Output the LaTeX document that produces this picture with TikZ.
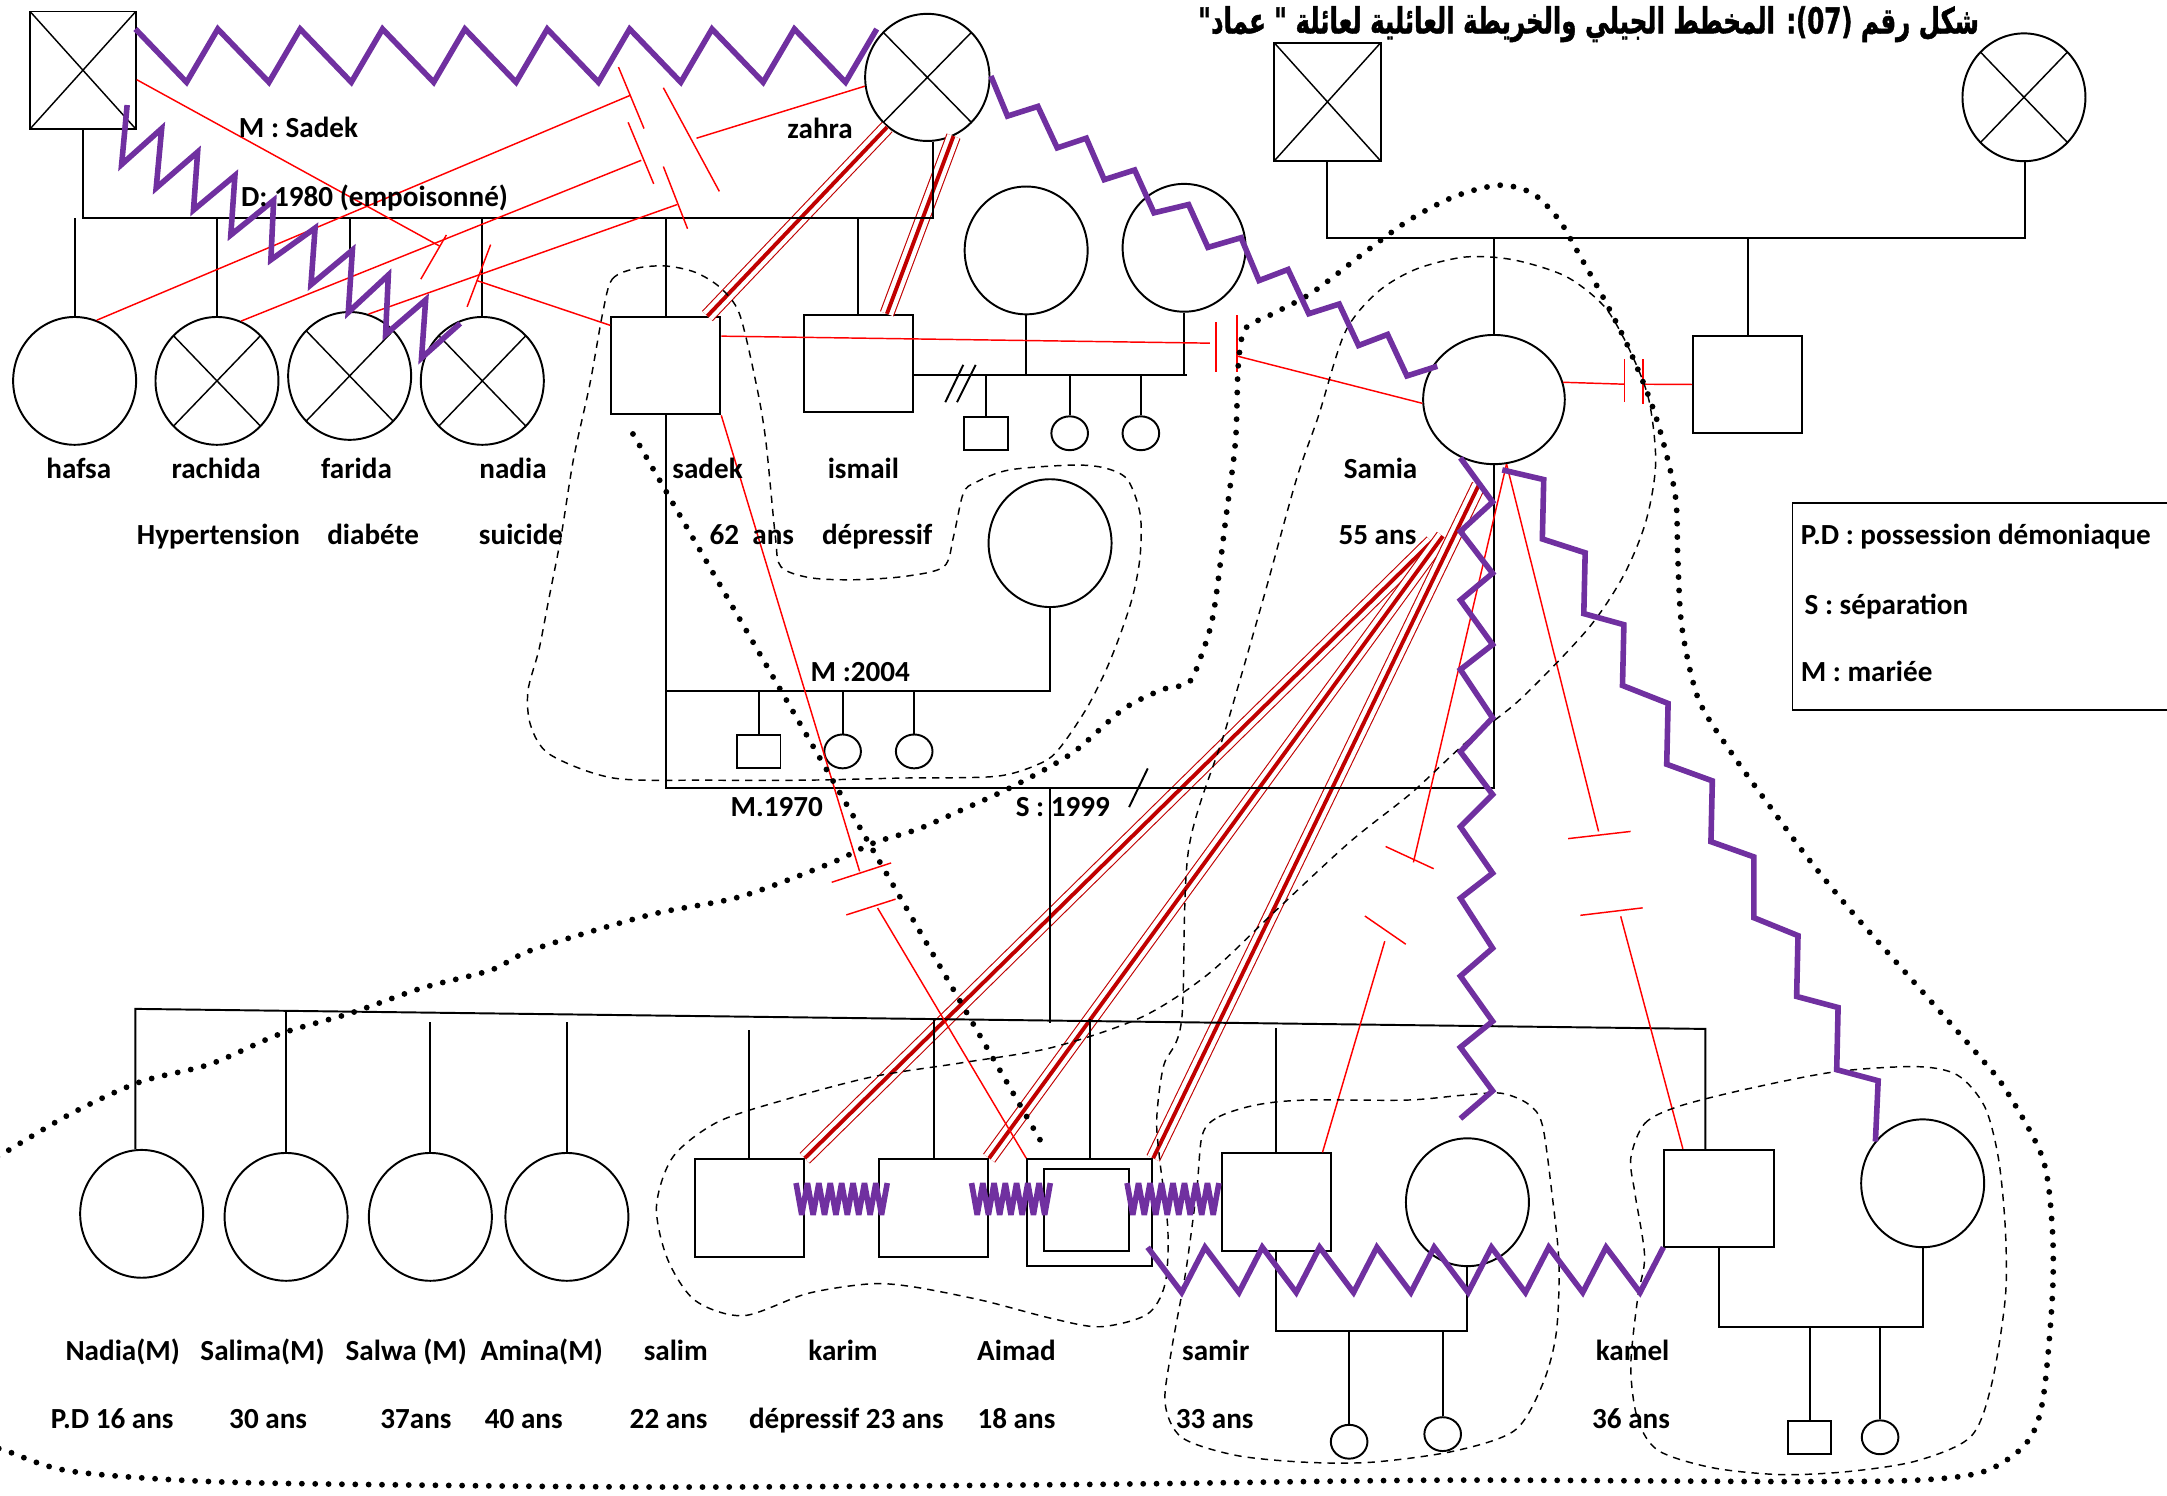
\documentclass[tikz,border=0pt]{standalone}
\usepackage{graphicx}
\usepackage{fontspec}
\setmainfont{Carlito}
\newfontfamily\arabicfont[Script=Arabic, BoldFeatures={FakeBold=1.5}]{DejaVu Sans}
\TeXXeTstate=1
\usetikzlibrary{shapes.geometric}
\definecolor{conflictpurple}{HTML}{7030A0}
\definecolor{cutred}{HTML}{FF0000}
\definecolor{fusedred}{HTML}{C00000}
\tikzset{
	personnode/.style={
			draw=black,
			thick,
			inner sep=0pt
		},
	malenode/.style={
			personnode,
			rectangle,
			minimum width=1.58cm,
			minimum height=1.41cm
		},
	femalenode/.style={
			personnode,
			ellipse,
			minimum width=1.78cm,
			minimum height=1.85cm
		},
	kidmale/.style={
			personnode,
			rectangle,
			minimum width=0.63cm,
			minimum height=0.48cm
		},
	kidfemale/.style={
			personnode,
			ellipse,
			minimum width=0.53cm,
			minimum height=0.49cm
		},
	deadnode/.style={
			path picture={
				\draw[line width=0.6pt] (path picture bounding box.north west) -- (path picture bounding box.south east)
				(path picture bounding box.north east) -- (path picture bounding box.south west);
			}
		},
	labelnode/.style={
			font=\bfseries\fontsize{12}{14}\selectfont,
			inner sep=0pt,
			text height=8.5pt,
			text depth=2.5pt
		},
	familyline/.style={thick},
	conflictline/.style={draw=conflictpurple, line width=2.3pt},
	cutline/.style={draw=cutred, line width=0.6pt},
	fusedline/.style={
			preaction={draw=fusedred, double=white, line width=0.45pt, double distance=5.2pt},
			draw=fusedred,
			line width=1.6pt
		},
	homeline/.style={line width=0.6pt, dash pattern=on 3pt off 2.5pt},
	clanline/.style={line width=2.4pt, dash pattern=on 0pt off 5.5pt, line cap=round}
}

\begin{document}
\begin{tikzpicture}[x=0.02cm, y=-0.02cm]
	\useasboundingbox (0,0) rectangle (1568,1082);

	% fused relations first
	\coordinate (fz1) at (1036,392);
	\coordinate (fz2) at (1044,388);
	\coordinate (fz3) at (1070,351);

	% persons
	\node[malenode, deadnode, minimum width=1.53cm, minimum height=1.7cm] (gpa) at (60,50.8) {};
	\node[femalenode, deadnode, minimum width=1.8cm, minimum height=1.84cm] (zahra) at (671,56) {};
	\node[malenode, deadnode, minimum width=1.54cm, minimum height=1.71cm] (samiafa) at (960.5,73.7) {};
	\node[femalenode, deadnode] (samiamo) at (1464.5,70.4) {};

	\node[femalenode] (hafsa) at (54,275.6) {};
	\node[femalenode, deadnode] (rachida) at (157,275.6) {};
	\node[femalenode, deadnode] (farida) at (253,272) {};
	\node[femalenode, deadnode] (nadia) at (349,275.6) {};
	\node[malenode] (sadek) at (481.7,264.6) {};
	\node[malenode] (ismail) at (621,263) {};
	\node[femalenode] (ismailwa) at (742.5,181.2) {};
	\node[femalenode] (ismailwb) at (856.8,179.3) {};
	\node[kidmale] (ismailka) at (713.5,313.5) {};
	\node[kidfemale] (ismailkb) at (774,313.5) {};
	\node[kidfemale] (ismailkc) at (825.5,313.5) {};
	\node[femalenode] (sadekw) at (759.8,393) {};
	\node[kidmale] (sadekka) at (549,543.7) {};
	\node[kidfemale] (sadekkb) at (609.7,543.7) {};
	\node[kidfemale] (sadekkc) at (661.5,543.7) {};
	\node[femalenode, minimum width=2.05cm, minimum height=1.87cm] (samia) at (1081,289.1) {};
	\node[malenode] (samiabro) at (1264.6,278.2) {};

	\node[femalenode] (nadiam) at (102.5,878.3) {};
	\node[femalenode] (salima) at (207,880.5) {};
	\node[femalenode] (salwa) at (311.4,880.5) {};
	\node[femalenode] (amina) at (410.2,880.5) {};
	\node[malenode] (salim) at (542.1,874) {};
	\node[malenode] (karim) at (675.5,874) {};
	\node[malenode, minimum width=1.81cm, minimum height=1.55cm] (aimad) at (788.5,877.5) {};
	\node[malenode, minimum width=1.23cm, minimum height=1.19cm] (aimadin) at (786,875.3) {};
	\node[malenode] (samir) at (923.4,869.8) {};
	\node[femalenode] (samirw) at (1061.8,869.9) {};
	\node[malenode] (kamel) at (1243.8,867.2) {};
	\node[femalenode] (kamelw) at (1391.2,856.2) {};
	\node[kidfemale] (samirka) at (976.2,1043.2) {};
	\node[kidfemale] (samirkb) at (1043.9,1037.7) {};
	\node[kidmale] (kamelka) at (1309.4,1039.9) {};
	\node[kidfemale] (kamelkb) at (1360.4,1040) {};

	\draw[fusedline] (sadek.50) -- (zahra.-129);
	\draw[fusedline] (ismail.60) -- (zahra.-66);
	\draw[fusedline] (fz1) -- (salim.north east);
	\draw[fusedline] (fz2) -- (karim.north east);
	\draw[fusedline] (fz3) -- (aimad.north east);

	% family lines
	\coordinate (mara) at (675,158);
	\draw[familyline] (gpa.south) |- (mara) -- (mara |- zahra.south);
	\foreach \c in {hafsa, rachida, farida, nadia, sadek, ismail}
		\draw[familyline] (\c.north) -- (\c.north |- mara);

	\coordinate (marb) at (1465,172);
	\draw[familyline] (samiafa.south) |- (marb) -- (marb |- samiamo.south);
	\draw[familyline] (samia.north) -- (samia.north |- marb);
	\draw[familyline] (samiabro.north) -- (samiabro.north |- marb);

	\coordinate (marc) at (859,271.5);
	\draw[familyline] (ismail.east |- marc) -- (marc);
	\draw[familyline] (ismailwa.south) -- (ismailwa.south |- marc);
	\draw[familyline] (ismailwb.south) -- (ismailwb.south |- marc);
	\foreach \c in {ismailka, ismailkb, ismailkc}
		\draw[familyline] (\c.north) -- (\c.north |- marc);
	\draw[familyline] (684,291) -- (697,264) (692.5,291) -- (706,264);

	\coordinate (mar70) at (760,570);
	\draw[familyline] (sadek.south) |- (mar70) -| (samia.south);
	\draw[familyline] (mar70) -- (760,740);
	\draw[familyline] (817,584) -- (830.5,556);
	\coordinate (mar04) at (620,500);
	\draw[familyline] (sadek.south |- mar04) -- (mar04) -| (sadekw.south);
	\foreach \c in {sadekka, sadekkb, sadekkc}
		\draw[familyline] (\c.north) -- (\c.north |- mar04);

	\coordinate (sibl) at (98,730);
	\coordinate (sibr) at (1234,744.5);
	\draw[familyline] (sibl |- nadiam.north) -- (sibl) -- (sibr) -- (sibr |- kamel.north);
	\draw[familyline] (salima.north) -- ++(0,-103);
	\draw[familyline] (salwa.north) -- ++(0,-94);
	\draw[familyline] (amina.north) -- ++(0,-94);
	\draw[familyline] (salim.north) -- ++(0,-93);
	\draw[familyline] (karim.north) -- ++(0,-101);
	\draw[familyline] (aimad.north) -- ++(0,-101);
	\draw[familyline] (samir.north) -- ++(0,-90);

	\coordinate (mard) at (990,963);
	\draw[familyline] (samir.south) |- (mard) -| (samirw.south);
	\foreach \c in {samirka, samirkb}
		\draw[familyline] (\c.north) -- (\c.north |- mard);
	\coordinate (mare) at (1320,960);
	\draw[familyline] (kamel.south) |- (mare) -| (kamelw.south);
	\foreach \c in {kamelka, kamelkb}
		\draw[familyline] (\c.north) -- (\c.north |- mare);

	% cut-off relations
	\draw[cutline] (gpa.-10) -- (318,178);
	\draw[cutline] (323,170) -- (304.5,202) (355,177) -- (338,222);
	\draw[cutline] (345,203) -- (sadek.144);

	\draw[cutline] (hafsa.70) -- (456,69);
	\draw[cutline] (rachida.68) -- (464,116);
	\draw[cutline] (farida.73) -- (490,148);
	\draw[cutline] (447.5,48.5) -- (466,93) (454.5,88.5) -- (473,133)
		(480,63.5) -- (520.5,138.5) (480,120.5) -- (497.5,165.5);
	\draw[cutline] (504,100) -- (zahra.188);

	\draw[cutline] (sadek.28) -- (875.5,248.3);
	\draw[cutline] (880,233) -- (880,269.5) (895,228) -- (895,269.5);
	\draw[cutline] (895,257.6) -- (samia.183);

	\draw[cutline] (samia.14) -- (1175.5,278);
	\draw[cutline] (1175.5,260) -- (1175.5,291) (1188.7,260) -- (1188.7,292);
	\draw[cutline] (1188.7,278) -- (samiabro.west);

	\draw[cutline] (sadek.south east) -- (622,630.5);
	\draw[cutline] (601.8,638.4) -- (644.8,624.4) (612.4,662) -- (648,650.6);
	\draw[cutline] (635,657) -- (aimad.north west);

	\draw[cutline] (samia.-79) -- (1022.7,624);
	\draw[cutline] (1002.6,612.5) -- (1037.4,628.6) (987.6,662.8) -- (1017.2,683.2);
	\draw[cutline] (1002,681) -- (samir.47);

	\draw[cutline] (samia.-79) -- (1156.7,601.6);
	\draw[cutline] (1134.7,606.8) -- (1179.9,601.6) (1143.5,662.3) -- (1188.6,656.9);
	\draw[cutline] (1172.7,663) -- (kamel.126);

	% household boundaries
	\draw[homeline] plot[smooth cycle] coordinates {(436,227) (443,202) (461,194) (482,192.5) (503,197) (521,208) (535,227) (547,277) (554,318) (561,388) (565,410) (586,418) (618,419.5) (655,417) (683,410) (690,388) (697,357) (706,349) (730.5,340) (776.6,336.5) (799.7,338.7) (815.8,347) (825,372) (825,402) (820,430) (811,458) (800,485.5) (786,513) (767,541) (753.5,552) (721,561.7) (652,563) (583,564.5) (513.5,564.5) (444,563) (398,546) (384,525) (382,500) (390,470) (397,434) (406,388) (415,332) (427,277)};
	\draw[homeline] plot[smooth cycle] coordinates {(954,301) (973,241) (996,212) (1024,195) (1060,186) (1095,188) (1133,200) (1161,222) (1179,253) (1193,289) (1198,335) (1191,377) (1175,416) (1149,455) (1100,506) (1061,537) (1021,574) (977,609) (923,659) (874,705) (826,736) (761,758) (696,769) (632,779) (567,796) (519,812) (487,837) (475,873) (483,911) (503,941) (538,952) (584,936) (629,929) (660,931) (711,941) (761,954) (796,960) (830,951) (843,929) (845,889) (839,838) (837,809) (842,771) (855,738) (860,615) (887,527) (915,430) (938,347)};
	\draw[homeline] plot[smooth cycle] coordinates {(870,821) (882,808) (909,799.5) (944,796) (1017.5,796) (1057,792.6) (1086,791) (1106,799) (1116,814) (1123,864) (1128,914) (1126,965) (1116,1002) (1096,1035) (1052,1050) (993,1058) (944,1058) (894,1053) (855,1040) (843,1015) (848,975) (858,920) (866,860)};
	\draw[homeline] plot[smooth cycle] coordinates {(1180,838) (1190,813) (1214.5,800.6) (1264,788) (1328,775.5) (1387,771.8) (1416.5,778) (1436,800.6) (1446,838) (1451,889) (1451,939) (1441,1002) (1426,1039.5) (1387,1057) (1338,1064.7) (1288.5,1067) (1239,1062) (1200,1049.6) (1185,1027) (1180,989) (1185,939) (1190,909) (1183,863.5)};

	% wide boundary
	\draw[clanline] plot[smooth] coordinates {(-10,1045) (5,1050) (51,1064.5) (152,1072) (305,1074.6) (508,1076) (796,1074) (1042,1071) (1288,1072) (1387,1071) (1436,1064.6) (1466,1044.5) (1478,1014) (1485,939) (1485,889) (1478,838) (1451,788) (1431,763) (1387,713) (1341,661) (1309,622) (1281,584) (1253,545) (1229,506) (1217,454) (1214,403) (1212,357) (1198,301) (1179,253) (1161,217) (1142,183) (1128,159) (1109,140) (1085,134) (1053,142) (1020,159) (987,183) (949,212) (919,228) (901,238) (896,264) (894,319) (887,375) (878,444) (869,475) (860,494) (841,499) (813,513) (781,541) (761,554) (729,571) (696,586) (664,600) (632,610) (600,625) (535,649) (470,662) (386,687) (355,702) (305,715) (254,733) (203,748) (152,770) (101,783) (51,806) (0,836) (-10,842)};
	\draw[clanline] (458,314) -- (755,829);

	% conflicts
	\coordinate (zza) at (98,21);
	\draw[conflictline] (zza) \foreach \k in {0,...,8} { -- ({135+59.6*\k},59.5) -- ({157.6+59.6*\k},21) };
	\draw[conflictline] (92,76) -- (88,119) -- (117,93) -- (113,136) -- (143,110) -- (140,152) -- (170,127) -- (167,170) -- (198,145) -- (196,188) -- (228,165) -- (225,206) -- (255,181) -- (252,226) -- (281,199) -- (279,242) -- (308,217) -- (305,259) -- (333,234);
	\draw[conflictline] (717,55) -- (729,84) -- (751,77) -- (765,107) -- (786,100) -- (799,130) -- (821,123) -- (835,154) -- (860,148) -- (874,179) -- (898,172) -- (911,203) -- (932,195) -- (947,227) -- (969,220) -- (983,250) -- (1004,242) -- (1018,272) -- (1040,265);
	\draw[conflictline] (1056.7,331.3) -- (1080,363.2) -- (1056.7,384.5) -- (1080,414.8) -- (1056.7,434.2) -- (1080,466.4) -- (1056.7,484.5) -- (1080,519.4) -- (1056.7,543.9) -- (1080,574.9) -- (1056.7,598.2) -- (1080,631.8) -- (1056.7,649.9) -- (1080,686.1) -- (1056.7,706.3) -- (1080,739) -- (1056.7,757.8) -- (1080,789.3) -- (1056.7,809.4);
	\draw[conflictline] (1087,340) -- (1117,347) -- (1116,390) -- (1147,400) -- (1146,444) -- (1175,452) -- (1174,496) -- (1207,509) -- (1206,553) -- (1239,565) -- (1238,609) -- (1269,620) -- (1269,664) -- (1301,677) -- (1300,721) -- (1330,729) -- (1329,774) -- (1359,782) -- (1357,826);
	\coordinate (zzb) at (830.4,902.5);
	\draw[conflictline] (zzb) \foreach \k in {0,...,8} { -- ({855+41.46*\k},935.2) -- ({871.9+41.46*\k},902.5) };
	\draw[conflictline, line join=bevel] (576,856) \foreach \k in {0,...,7} { -- ({580.1+8.25*\k},879) -- ({584.25+8.25*\k},856) };
	\draw[conflictline, line join=bevel] (703,856) \foreach \k in {0,...,6} { -- ({707.07+8.14*\k},879) -- ({711.14+8.14*\k},856) };
	\draw[conflictline, line join=bevel] (815.5,856) \foreach \k in {0,...,7} { -- ({819.66+8.31*\k},879) -- ({823.81+8.31*\k},856) };

	% legend
	\draw[familyline] (1570,364) -- (1297,364) -- (1297,513.5) -- (1570,513.5);
	\node[labelnode, anchor=west] (legpd) at (1302.7,388.9) {P.D : possession démoniaque};
	\node[labelnode, anchor=west] (legs) at (1305.5,439.3) {S : séparation};
	\node[labelnode, anchor=west] (legm) at (1302.7,487.9) {M : mariée};

	% title
	\node[inner sep=0pt] (title) at (1149.5,17.5) {\resizebox*{11.3cm}{0.52cm}{\arabicfont\bfseries\beginR شكل رقم \beginL(07)\endL: المخطط الجيلي والخريطة العائلية لعائلة " عماد"\endR}};

	% texts
	\node[labelnode] (tmsadek) at (216,94) {M : Sadek};
	\node[labelnode] (tdeath) at (271,144) {D: 1980 (empoisonné)};
	\node[labelnode] (tzahra) at (593.4,94.7) {zahra};
	\node[labelnode] (thafsa) at (57,340.6) {hafsa};
	\node[labelnode] (trachida) at (156.4,340.6) {rachida};
	\node[labelnode] (tfarida) at (258,340.6) {farida};
	\node[labelnode] (tnadia) at (371.2,340.6) {nadia};
	\node[labelnode] (tsadek) at (512,340.6) {sadek};
	\node[labelnode] (tismail) at (624.7,340.6) {ismail};
	\node[labelnode] (tsamia) at (999,340.6) {Samia};
	\node[labelnode] (hrachida) at (158,389) {Hypertension};
	\node[labelnode] (hfarida) at (270,389) {diabéte};
	\node[labelnode] (hnadia) at (377,389) {suicide};
	\node[labelnode] (hsadek) at (544,389) {62~~ans};
	\node[labelnode] (hismail) at (634.7,389) {dépressif};
	\node[labelnode] (hsamia) at (996.7,389) {55 ans};
	\node[labelnode] (tm2004) at (622.5,487.7) {M :2004};
	\node[labelnode] (tm1970) at (562,585.8) {M.1970};
	\node[labelnode] (ts1999) at (769,585.8) {S : 1999};

	\node[labelnode] (tnadiam) at (88.8,979.2) {Nadia(M)};
	\node[labelnode] (tsalima) at (190,979.2) {Salima(M)};
	\node[labelnode] (tsalwa) at (294,979.2) {Salwa (M)};
	\node[labelnode] (tamina) at (392,979.2) {Amina(M)};
	\node[labelnode] (tsalim) at (489,979.2) {salim};
	\node[labelnode] (tkarim) at (610,979.2) {karim};
	\node[labelnode] (taimad) at (735.5,979.2) {Aimad};
	\node[labelnode] (tsamir) at (879.7,979.2) {samir};
	\node[labelnode] (tkamel) at (1181.3,979.2) {kamel};
	\node[labelnode] (hnadiam) at (81.2,1028.2) {P.D 16 ans};
	\node[labelnode] (hsalima) at (194,1028.2) {30 ans};
	\node[labelnode] (hsalwa) at (301,1028.2) {37ans};
	\node[labelnode] (hamina) at (379,1028.2) {40 ans};
	\node[labelnode] (hsalim) at (483.8,1028.2) {22 ans};
	\node[labelnode] (hkarim) at (612.4,1028.2) {dépressif 23 ans};
	\node[labelnode] (haimad) at (735.5,1028.2) {18 ans};
	\node[labelnode] (hsamir) at (878.9,1028.2) {33 ans};
	\node[labelnode] (hkamel) at (1180.2,1028.2) {36 ans};
\end{tikzpicture}
\end{document}
